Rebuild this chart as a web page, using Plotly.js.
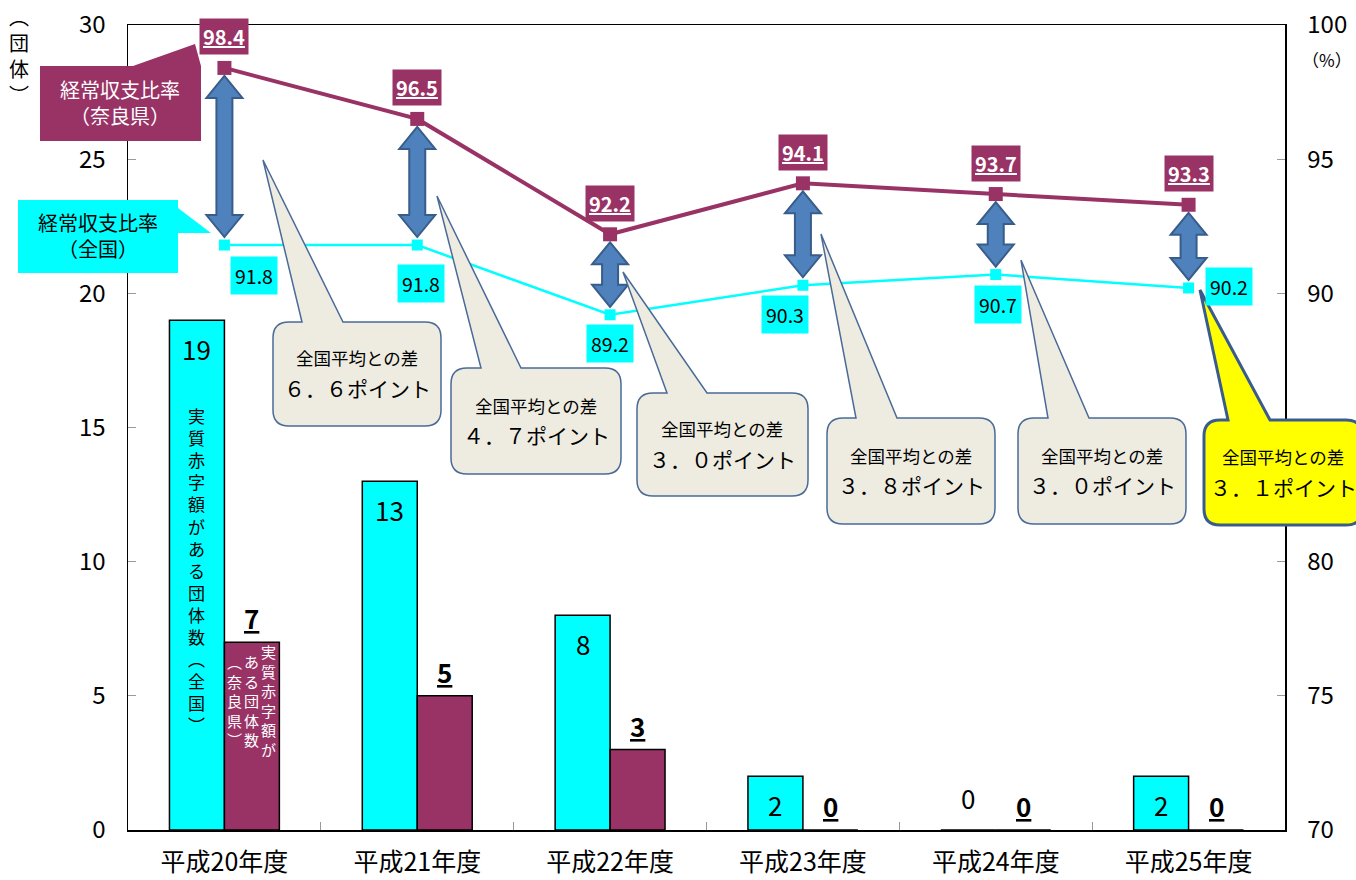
<!DOCTYPE html>
<html><head><meta charset="utf-8">
<script src="https://cdn.plot.ly/plotly-3.0.1.min.js"></script>
<style>body{margin:0;background:#fff}#chart{width:1356px;height:880px}</style>
</head><body><div id="chart"></div>
<script>
// ---- data ----
const categories = ['平成20年度','平成21年度','平成22年度','平成23年度','平成24年度','平成25年度'];
const deficitNational = [19, 13, 8, 2, 0, 2];
const deficitNara = [7, 5, 3, 0, 0, 0];
const ratioNara = [98.4, 96.5, 92.2, 94.1, 93.7, 93.3];
const ratioNational = [91.8, 91.8, 89.2, 90.3, 90.7, 90.2];

// ---- styling / layout helpers ----
const FONT = 'Noto Sans CJK JP, Noto Sans, sans-serif';
const MAROON = '#993366', CYAN = '#00FFFF';
const W = 1356, H = 880;
const L = 128, R = 1285, T = 25, B = 830;
const PW = R - L, PH = B - T;
const px = x => (x - L) / PW;
const py = y => (B - y) / PH;
const P = (x, y) => px(x).toFixed(5) + ',' + py(y).toFixed(5);
const y2pix = v => B - (v - 70) / 30 * PH;
const catPix = i => L + (i + 0.5) * PW / categories.length;
const paperNote = (x, y, text, size, color, extra) => Object.assign({
  xref: 'paper', yref: 'paper', x: px(x), y: py(y), xanchor: 'center', yanchor: 'middle',
  text, showarrow: false, font: {family: FONT, size, color}}, extra || {});

const shapes = [];
// double arrows between the two ratio lines
categories.forEach((c, i) => {
  const cx = catPix(i), top = y2pix(ratioNara[i]) + 8, bot = y2pix(ratioNational[i]) - 8;
  const hw = 18, sw = 8, hl = 22;
  const path = 'M' + P(cx, top) + ' L' + P(cx + hw, top + hl) + ' L' + P(cx + sw, top + hl) +
    ' L' + P(cx + sw, bot - hl) + ' L' + P(cx + hw, bot - hl) + ' L' + P(cx, bot) +
    ' L' + P(cx - hw, bot - hl) + ' L' + P(cx - sw, bot - hl) + ' L' + P(cx - sw, top + hl) +
    ' L' + P(cx - hw, top + hl) + ' Z';
  shapes.push({type: 'path', xref: 'paper', yref: 'paper', path, fillcolor: '#4F81BD',
    line: {color: '#385D8A', width: 2}, layer: 'above'});
});

function callout(x0, y0, x1, y1, r, b0, b1, tx, ty) {
  return 'M' + P(x0 + r, y0) + ' L' + P(b0, y0) + ' L' + P(tx, ty) + ' L' + P(b1, y0) +
    ' L' + P(x1 - r, y0) + ' Q' + P(x1, y0) + ' ' + P(x1, y0 + r) +
    ' L' + P(x1, y1 - r) + ' Q' + P(x1, y1) + ' ' + P(x1 - r, y1) +
    ' L' + P(x0 + r, y1) + ' Q' + P(x0, y1) + ' ' + P(x0, y1 - r) +
    ' L' + P(x0, y0 + r) + ' Q' + P(x0, y0) + ' ' + P(x0 + r, y0) + ' Z';
}
// callout boxes: [x0,y0,x1,y1,tailBase0,tailBase1,tipX,tipY]
const boxes = [
  [273, 322, 441, 426, 302, 343, 263, 160],
  [451, 368, 621, 474, 481, 521, 437, 196],
  [637, 393, 808, 496, 667, 707, 623, 272],
  [827, 418, 995, 524, 856, 897, 821, 234],
  [1018, 418, 1186, 524, 1048, 1089, 1021, 260],
  [1204, 420, 1362, 525, 1228, 1270, 1200, 290]
];
const annotations = [];
const toFull = s => s.replace(/[0-9.]/g, ch => ch === '.' ? '．' : String.fromCharCode(ch.charCodeAt(0) + 0xFEE0));
boxes.forEach((b, i) => {
  const yellow = i === 5;
  shapes.push({type: 'path', xref: 'paper', yref: 'paper', layer: 'above',
    path: callout(b[0], b[1], b[2], b[3], 16, b[4], b[5], b[6], b[7]),
    fillcolor: yellow ? '#FFFF00' : '#EEECE1',
    line: {color: yellow ? '#3A5C8C' : '#4A6A98', width: yellow ? 3 : 1.5}});
  const cx = (b[0] + b[2]) / 2, cy = (b[1] + b[3]) / 2;
  const diff = (ratioNara[i] - ratioNational[i]).toFixed(1);
  annotations.push(paperNote(cx, cy - 16, '全国平均との差', 17.5, '#000'));
  annotations.push(paperNote(cx, cy + 14, toFull(diff) + 'ポイント', 21, '#000'));
});

// legend-like callouts
shapes.push({type: 'path', xref: 'paper', yref: 'paper', layer: 'above', fillcolor: MAROON, line: {width: 0},
  path: 'M' + P(40, 66) + ' L' + P(133, 66) + ' L' + P(195, 44) + ' L' + P(201, 66) + ' L' + P(201, 141) + ' L' + P(40, 141) + ' Z'});
shapes.push({type: 'path', xref: 'paper', yref: 'paper', layer: 'above', fillcolor: CYAN, line: {width: 0},
  path: 'M' + P(18, 200) + ' L' + P(178, 200) + ' L' + P(178, 208) + ' L' + P(211, 233) + ' L' + P(178, 233) + ' L' + P(178, 273) + ' L' + P(18, 273) + ' Z'});
annotations.push(paperNote(120, 102, '経常収支比率<br>（奈良県）', 20, '#fff'));
annotations.push(paperNote(98, 236, '経常収支比率<br>（全国）', 20, '#000'));

// axis titles
annotations.push(paperNote(19, 56, '︵<br>団<br>体<br>︶', 20, '#000'));
annotations.push(paperNote(1327, 60, '（%）', 17, '#000'));

// bar value labels
categories.forEach((c, i) => {
  const v = deficitNational[i];
  annotations.push({x: c, y: v, xref: 'x', yref: 'y', xshift: -27.5, showarrow: false,
    xanchor: 'center', yanchor: v > 0 ? 'top' : 'bottom', yshift: v > 0 ? -8 : 12, text: String(v),
    font: {family: FONT, size: 26, color: '#000'}});
  const n = deficitNara[i];
  annotations.push({x: c, y: n, xref: 'x', yref: 'y', xshift: 27.5, showarrow: false,
    xanchor: 'center', yanchor: 'bottom', yshift: 4, text: '<b><u>' + n + '</u></b>',
    font: {family: FONT, size: 26, color: '#000'}});
});
// vertical texts inside first bars
const vert = s => s.split('').join('<br>');
annotations.push(paperNote(196, 570, vert('実質赤字額がある団体数︵全国︶'), 17, '#000'));
[['実質赤字額が', 268], ['ある団体数', 251], ['︵奈良県︶', 234]].forEach(([s, x]) => {
  annotations.push(paperNote(x, 700, vert(s), 15, '#fff'));
});

// line value labels
const nationalOffsets = [[30, -30], [4, -38], [0, -29], [-18, -29], [2, -30], [40, 1]];
categories.forEach((c, i) => {
  annotations.push({x: c, y: ratioNara[i], xref: 'x', yref: 'y2', yshift: 31, showarrow: false,
    xanchor: 'center', yanchor: 'middle',
    text: '<b><u>' + ratioNara[i].toFixed(1) + '</u></b>', bgcolor: MAROON, borderpad: 3,
    font: {family: FONT, size: 20, color: '#fff'}});
  annotations.push({x: c, y: ratioNational[i], xref: 'x', yref: 'y2',
    xanchor: 'center', yanchor: 'middle',
    xshift: nationalOffsets[i][0], yshift: nationalOffsets[i][1], showarrow: false,
    text: ratioNational[i].toFixed(1), bgcolor: CYAN, borderpad: 4,
    font: {family: FONT, size: 19.5, color: '#000'}});
});

const traces = [
  {type: 'bar', x: categories, y: deficitNational, name: '実質赤字額がある団体数（全国）',
    marker: {color: CYAN, line: {color: '#000', width: 1.5}}, hoverinfo: 'skip'},
  {type: 'bar', x: categories, y: deficitNara, name: '実質赤字額がある団体数（奈良県）',
    marker: {color: MAROON, line: {color: '#000', width: 1.5}}, hoverinfo: 'skip'},
  {type: 'scatter', mode: 'lines+markers', x: categories, y: ratioNational, yaxis: 'y2', name: '経常収支比率（全国）',
    line: {color: CYAN, width: 2.5}, marker: {symbol: 'square', size: 11, color: CYAN}},
  {type: 'scatter', mode: 'lines+markers', x: categories, y: ratioNara, yaxis: 'y2', name: '経常収支比率（奈良県）',
    line: {color: MAROON, width: 4}, marker: {symbol: 'square', size: 14, color: MAROON}}
];

const layout = {
  width: W, height: H, margin: {l: L, r: W - R, t: T, b: H - B},
  paper_bgcolor: '#fff', plot_bgcolor: '#fff', showlegend: false,
  barmode: 'group', bargap: 0.43, bargroupgap: 0,
  font: {family: FONT, color: '#000'},
  xaxis: {type: 'category', showline: true, linecolor: '#000', linewidth: 1.5, mirror: true,
    ticks: 'inside', tickson: 'boundaries', ticklen: 8, tickcolor: '#999',
    tickfont: {family: FONT, size: 25, color: '#000'}, showgrid: false, ticklabelstandoff: 9},
  yaxis: {range: [0, 30], dtick: 5, showline: true, linecolor: '#000', linewidth: 1.5,
    ticks: 'inside', ticklen: 8, tickcolor: '#999', showgrid: false, zeroline: false,
    tickfont: {family: FONT, size: 24, color: '#000'}, ticklabelstandoff: 16},
  yaxis2: {range: [70, 100], dtick: 5, overlaying: 'y', side: 'right', showline: true,
    linecolor: '#000', linewidth: 1.5, ticks: 'inside', ticklen: 8, tickcolor: '#999',
    showgrid: false, zeroline: false, tickfont: {family: FONT, size: 24, color: '#000'}, ticklabelstandoff: 16},
  shapes, annotations
};
Plotly.newPlot('chart', traces, layout, {displayModeBar: false, staticPlot: true});
</script></body></html>
